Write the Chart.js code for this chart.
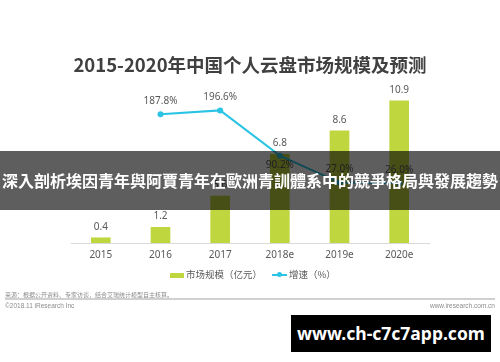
<!DOCTYPE html>
<html>
<head>
<meta charset="utf-8">
<script src="https://cdn.jsdelivr.net/npm/chart.js@4.4.0/dist/chart.umd.min.js"></script>
<style>
body{margin:0;background:#fff;}
#wrap{position:relative;width:500px;height:362px;overflow:hidden;font-family:"Noto Sans CJK SC","Noto Sans",sans-serif;}
#myChart{position:absolute;left:0;top:0;}
.title{position:absolute;left:0;width:500px;top:51px;text-align:center;font-size:18.5px;font-weight:bold;color:#404040;line-height:26px;}
.legend{position:absolute;top:268px;font-size:9.5px;color:#595959;line-height:12px;}
.legend .box{display:inline-block;width:14px;height:5px;background:#c0d63e;vertical-align:middle;margin-right:2px;}
.legend .ln{display:inline-block;position:relative;width:15px;height:2px;background:#2cc4e4;vertical-align:middle;margin-right:2px;}
.legend .ln i{position:absolute;left:5px;top:-2px;width:5px;height:5px;border-radius:50%;background:#2cc4e4;}
.src{position:absolute;left:5px;top:290px;font-size:6px;color:#8c8c8c;}
.rule{position:absolute;left:5px;top:298px;width:490px;height:2px;background:#d0d0d0;}
.copy{position:absolute;left:5px;top:302px;font-size:6.5px;color:#8c8c8c;font-family:"Liberation Sans",sans-serif;}
.site{position:absolute;right:5px;top:302px;font-size:6.5px;color:#8c8c8c;font-family:"Liberation Sans",sans-serif;}
.banner{position:absolute;left:0;top:151px;width:500px;height:59px;background:rgba(0,0,0,0.63);color:#fff;font-family:"Noto Sans CJK TC",sans-serif;font-weight:bold;font-size:16px;line-height:59px;text-align:center;white-space:nowrap;}
.mark{position:absolute;left:291px;top:315px;width:200px;height:37px;background:#000;color:#fff;font-family:"Noto Sans",sans-serif;font-weight:bold;font-size:17.5px;line-height:37px;text-align:center;}
</style>
</head>
<body>
<div id="wrap">
	<canvas id="myChart" width="500" height="362"></canvas>
	<div class="title">2015-2020年中国个人云盘市场规模及预测</div>
	<div class="legend" style="left:170px;"><span class="box"></span>市场规模（亿元）</div>
	<div class="legend" style="left:272px;"><span class="ln"><i></i></span>增速（%）</div>
	<div class="src">来源：根据公开资料、专家访谈，结合艾瑞统计模型自主核算。</div>
	<div class="rule"></div>
	<div class="copy">©2018.11 iResearch Inc</div>
	<div class="site">www.iresearch.com.cn</div>
	<div class="banner">深入剖析埃因青年與阿賈青年在歐洲青訓體系中的競爭格局與發展趨勢</div>
	<div class="mark">www.ch-c7c7app.com</div>
</div>
<script>
//数据
var categories=['2015','2016','2017','2018e','2019e','2020e'];
var marketSize=[0.4,1.2,3.6,6.8,8.6,10.9];
var growthRate=[null,187.8,196.6,90.2,27.0,26.0];

//数值标签
var valueLabels={
	id:'valueLabels',
	afterDatasetsDraw:function(chart){
		var ctx=chart.ctx;
		ctx.save();
		ctx.font='10px "Noto Sans","Noto Sans CJK SC",sans-serif';
		ctx.fillStyle='#595959';
		ctx.textAlign='center';
		ctx.textBaseline='middle';
		chart.getDatasetMeta(0).data.forEach(function(el,i){
			ctx.fillText(marketSize[i].toFixed(1),el.x,el.y-11);
		});
		chart.getDatasetMeta(1).data.forEach(function(el,i){
			if(growthRate[i]==null) return;
			var dy=(i==3)?9:-13;
			ctx.fillText(growthRate[i].toFixed(1)+'%',el.x,el.y+dy);
		});
		ctx.restore();
	}
};

var ctx1=document.getElementById('myChart');
var myChart=new Chart(ctx1,{
	type:'bar',
	data:{
		labels:categories,
		datasets:[{
			label:'市场规模（亿元）',
			data:marketSize,
			backgroundColor:'#c0d63e',
			barThickness:19,
			yAxisID:'y',
			order:2
		},{
			type:'line',
			label:'增速（%）',
			data:growthRate,
			borderColor:'#2cc4e4',
			backgroundColor:'#2cc4e4',
			borderWidth:2,
			pointRadius:3,
			pointBackgroundColor:'#2cc4e4',
			pointBorderWidth:0,
			spanGaps:false,
			tension:0,
			yAxisID:'y1',
			order:1
		}]
	},
	options:{
		responsive:false,
		animation:false,
		devicePixelRatio:1,
		layout:{padding:{left:71,right:71,top:80,bottom:95}},
		plugins:{legend:{display:false},tooltip:{enabled:false}},
		scales:{
			x:{
				grid:{display:false,drawTicks:false},
				border:{display:true,color:'#d9d9d9',width:1},
				ticks:{color:'#595959',font:{size:10,family:'"Noto Sans",sans-serif'},padding:6}
			},
			y:{display:false,min:0,max:12.5},
			y1:{display:false,min:-115,max:268}
		}
	},
	plugins:[valueLabels]
});
</script>
</body>
</html>
